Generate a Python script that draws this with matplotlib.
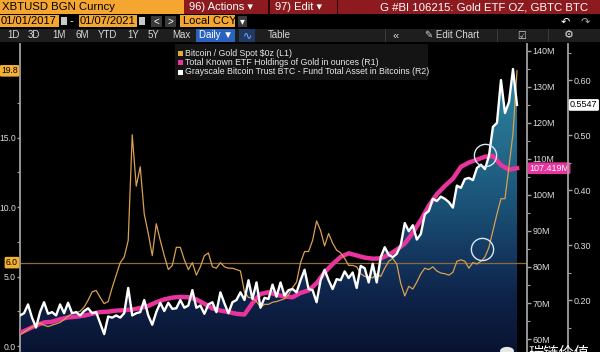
import numpy as np
import pandas as pd
import matplotlib
matplotlib.use('Agg')
import matplotlib.pyplot as plt
import matplotlib.dates as mdates
from matplotlib import font_manager
from matplotlib.colors import LinearSegmentedColormap
from matplotlib.patches import Rectangle, Polygon, Circle

START, END = '2017-01-02', '2021-01-07'

# Bitcoin / Gold spot ratio (L1), about every 12 days
btc_gold = [0.8, 1.0, 1.2, 1.35, 1.5, 1.65, 1.5, 1.4, 1.5, 1.6,
            1.7, 1.9, 2.15, 2.35, 2.4, 2.5, 2.8, 3.3, 3.9, 4.0,
            3.5, 3.05, 3.2, 4.2, 5.1, 6.0, 6.4, 7.6, 15.2, 11.5,
            12.9, 9.5, 8.1, 6.5, 8.8, 7.6, 6.5, 5.5, 5.8, 7.1,
            7.1, 6.2, 5.5, 6.0, 5.1, 5.7, 6.5, 6.7, 5.7, 5.6,
            6.0, 5.7, 5.6, 5.6, 5.5, 5.4, 3.9, 3.5, 3.45, 3.2,
            2.8, 3.0, 3.0, 3.15, 3.2, 3.3, 3.4, 3.7, 4.2, 4.6,
            6.0, 6.8, 6.8, 7.6, 9.0, 8.3, 7.2, 8.1, 7.4, 6.9,
            6.7, 6.3, 5.8, 5.8, 5.7, 5.2, 5.0, 5.0, 4.9, 5.2,
            5.0, 5.6, 6.1, 6.3, 5.9, 4.5, 3.6, 4.3, 4.1, 4.6,
            5.2, 5.6, 5.5, 5.7, 5.4, 5.25, 5.2, 5.1, 5.3, 6.1,
            6.2, 6.1, 5.6, 6.0, 5.9, 6.1, 6.4, 7.1, 8.3, 9.5,
            10.6, 10.6, 12.9, 15.3, 19.8]

# Total known ETF holdings of gold, million oz (R1), about every 24 days
gold_etf = [61.7, 62.7, 63.8, 64.6, 64.8, 65.5, 66.0, 66.2, 66.5, 67.0,
            67.5, 67.6, 67.9, 68.0, 68.2, 68.6, 69.2, 70.2, 71.0, 71.5,
            71.7, 71.6, 71.0, 69.8, 68.5, 67.9, 67.5, 67.0, 66.8, 70.0,
            72.5, 73.0, 72.3, 71.8, 71.6, 72.8, 73.5, 75.5, 78.5, 80.8,
            82.8, 83.8, 83.2, 82.6, 82.3, 82.4, 83.4, 84.8, 86.5, 89.5,
            93.0, 97.0, 100.2, 102.5, 104.5, 107.8, 109.0, 109.8, 110.6, 110.8,
            108.3, 107.0, 107.419]

# Grayscale Bitcoin Trust fund assets, million BTC (R2), about every 12 days
gbtc_btc = [0.172, 0.176, 0.192, 0.168, 0.150, 0.178, 0.196, 0.175, 0.178, 0.172,
            0.192, 0.176, 0.195, 0.176, 0.178, 0.172, 0.180, 0.185, 0.176, 0.178,
            0.158, 0.138, 0.170, 0.168, 0.172, 0.168, 0.176, 0.222, 0.172, 0.176,
            0.178, 0.200, 0.172, 0.155, 0.178, 0.195, 0.180, 0.195, 0.184, 0.185,
            0.200, 0.186, 0.190, 0.218, 0.186, 0.190, 0.175, 0.192, 0.196, 0.178,
            0.214, 0.194, 0.176, 0.196, 0.200, 0.214, 0.200, 0.236, 0.202, 0.232,
            0.186, 0.204, 0.202, 0.228, 0.206, 0.232, 0.208, 0.218, 0.220, 0.214,
            0.236, 0.255, 0.220, 0.218, 0.196, 0.236, 0.255, 0.236, 0.220, 0.238,
            0.236, 0.252, 0.240, 0.250, 0.222, 0.262, 0.258, 0.232, 0.266, 0.232,
            0.278, 0.296, 0.282, 0.278, 0.284, 0.300, 0.340, 0.325, 0.336, 0.310,
            0.320, 0.356, 0.362, 0.384, 0.380, 0.388, 0.384, 0.378, 0.368, 0.408,
            0.404, 0.420, 0.422, 0.418, 0.440, 0.446, 0.438, 0.462, 0.515, 0.522,
            0.600, 0.540, 0.560, 0.620, 0.5547]

ratio_line = 6.0
circle_dates = ['2020-10-04', '2020-09-26']
circle_vals = [111.0, 85.0]   # on the R1 scale

names = {f.name for f in font_manager.fontManager.ttflist}
FONT = 'Liberation Sans Narrow' if 'Liberation Sans Narrow' in names else 'Liberation Sans'
plt.rcParams['font.family'] = [FONT, 'DejaVu Sans']

W, H = 600, 352
fig = plt.figure(figsize=(6, 3.52), dpi=100, facecolor='black')


def box(x, y, w, h, color, z=1):
    fig.patches.append(Rectangle((x / W, 1 - (y + h) / H), w / W, h / H,
                                 transform=fig.transFigure, facecolor=color,
                                 edgecolor='none', zorder=z))


def txt(x, y, s, color='white', size=7, ha='left', **kw):
    fig.text(x / W, 1 - y / H, s, color=color, fontsize=size, ha=ha, va='center', **kw)


# --- bloomberg header ---
box(0, 0, 600, 14, '#8c1a1e')
box(0, 0, 184, 14, '#f4a630')
box(268, 0, 1.5, 14, '#2a0505')
box(337, 0, 1.5, 14, '#2a0505')
txt(2, 7.5, 'XBTUSD BGN Curncy', 'black', 8.2)
txt(189, 7.5, '96) Actions \u25be', 'white', 8)
txt(275, 7.5, '97) Edit \u25be', 'white', 8)
txt(588, 7.5, 'G #BI 106215: Gold ETF OZ, GBTC BTC', 'white', 8.2, ha='right')

box(0, 15, 59, 12, '#f4a630')
txt(1, 21.5, '01/01/2017', 'black', 8)
box(61, 17, 6, 8, '#c8c8c8')
txt(70, 21, '-', 'white', 8)
box(79, 15, 58, 12, '#f4a630')
txt(80, 21.5, '01/07/2021', 'black', 8)
box(139, 17, 6, 8, '#c8c8c8')
box(151, 16, 11, 11, '#3a3a3a')
txt(156.5, 21.5, '<', 'white', 7, ha='center')
box(165, 16, 11, 11, '#3a3a3a')
txt(170.5, 21.5, '>', 'white', 7, ha='center')
box(180, 15, 55, 12, '#f4a630')
txt(183, 21.5, 'Local CCY', 'black', 8)
box(238, 16, 9, 11, '#3a3a3a')
txt(242.5, 21.5, '\u25be', 'white', 7, ha='center')
txt(565, 21.5, '\u21b6', 'white', 8, ha='center')
txt(585, 21.5, '\u21b7', '#aaaaaa', 8, ha='center')

box(0, 29, 600, 13, '#1e1e1e')
for lbl, xx in [('1D', 7), ('3D', 28), ('1M', 52), ('6M', 75), ('YTD', 98),
                ('1Y', 127), ('5Y', 148), ('Max', 172)]:
    txt(xx, 35.5, lbl, '#d8d8d8', 7)
box(196, 29, 39, 13, '#2a62c0')
txt(199, 35.5, 'Daily \u25bc', 'white', 7)
box(239, 29, 16, 13, '#203a66')
txt(247, 35.5, '\u223f', '#8ab4ff', 8, ha='center')
txt(268, 35.5, 'Table', '#d8d8d8', 7)
box(385, 29, 1, 13, '#3a3a3a')
box(497, 29, 1, 13, '#3a3a3a')
box(548, 29, 1, 13, '#3a3a3a')
txt(396, 35.5, '\u00ab', '#d8d8d8', 8, ha='center')
txt(425, 35.5, '\u270e Edit Chart', '#d8d8d8', 7)
txt(522, 35.5, '\u2611', '#d8d8d8', 7, ha='center')
txt(569, 35.5, '\u2699', '#d8d8d8', 8, ha='center')

# --- chart ---
ax = fig.add_axes([20 / W, 0, 507 / W, 308 / H])
ax.set_facecolor('black')
r1 = ax.twinx()
r2 = ax.twinx()
r2.spines['right'].set_position(('axes', 548 / 507))

xa = mdates.date2num(pd.date_range(START, END, periods=len(btc_gold)))
xb = mdates.date2num(pd.date_range(START, END, periods=len(gold_etf)))
xc = mdates.date2num(pd.date_range(START, END, periods=len(gbtc_btc)))
xlim = (xa[0], xa[-1] + (xa[-1] - xa[0]) * 10 / 497)
l1_lim = (-0.43, 21.73)
r1_lim = (56.4, 141.9)
r2_lim = (0.1055, 0.6655)

cmap = LinearSegmentedColormap.from_list(
    'fill', [(0, '#091330'), (0.17, '#0e2248'), (0.33, '#153a62'),
             (0.49, '#1b5478'), (0.65, '#23698a'), (0.82, '#2a7a98'), (1, '#2e84a2')])
im = ax.imshow(np.linspace(0, 1, 256).reshape(-1, 1), extent=(xlim[0], xlim[1], *l1_lim),
               origin='lower', aspect='auto', cmap=cmap, zorder=1)
verts = [(xc[0], 0.0)] + list(zip(xc, gbtc_btc)) + [(xc[-1], 0.0)]
clip = Polygon(verts, closed=True, transform=r2.transData, facecolor='none', edgecolor='none')
ax.add_patch(clip)
im.set_clip_path(clip)

ax.axhline(ratio_line, color='#8c6a3a', lw=0.9, zorder=2)
ax.plot(xb, gold_etf, color='#e8349c', lw=3.2, transform=r1.transData, zorder=3)
ax.plot(xa, btc_gold, color='#d9a04e', lw=0.9, zorder=4)
ax.plot(xc, gbtc_btc, color='white', lw=1.7, transform=r2.transData, zorder=5)
ax.plot(mdates.datestr2num(circle_dates), circle_vals, 'o', ms=16, mfc='none',
        mec='#d6e8f5', mew=1.0, transform=r1.transData, zorder=7)

ax.set_xlim(xlim)
ax.set_ylim(l1_lim)
r1.set_ylim(r1_lim)
r2.set_ylim(r2_lim)

ax.tick_params(axis='x', bottom=False, labelbottom=False)
ax.set_yticks([0, 5, 10, 15])
ax.set_yticklabels(['0.0', '5.0', '10.0', '15.0'])
ax.set_yticks([2.5, 7.5, 12.5, 17.5], minor=True)
r1.set_yticks([60, 70, 80, 90, 100, 110, 120, 130, 140])
r1.set_yticklabels(['60M', '70M', '80M', '90M', '100M', '110M', '120M', '130M', '140M'])
r1.set_yticks([65, 75, 85, 95, 105, 115, 125, 135], minor=True)
r2.set_yticks([0.2, 0.3, 0.4, 0.5, 0.6])
r2.set_yticklabels(['0.20', '0.30', '0.40', '0.50', '0.60'])
r2.set_yticks([0.15, 0.25, 0.35, 0.45, 0.55, 0.65], minor=True)

for a in (ax, r1, r2):
    for s in a.spines.values():
        s.set_visible(False)
    a.tick_params(axis='y', which='major', colors='#a0a0a0', labelcolor='#dcdcdc',
                  labelsize=6.5, length=3, width=1, pad=1)
    a.tick_params(axis='y', which='minor', colors='#a0a0a0', length=2, width=0.8)
ax.tick_params(axis='y', which='major', labelsize=6.2, length=2.5, pad=0.5)
ax.spines['left'].set_visible(True)
r1.spines['right'].set_visible(True)
r2.spines['right'].set_visible(True)
for sp in (ax.spines['left'], r1.spines['right'], r2.spines['right']):
    sp.set_color('#a0a0a0')
    sp.set_linewidth(1.3)

# last value / reference tags
ax.annotate(f'{btc_gold[-1]:.1f}', xy=(0, btc_gold[-1]), xycoords=('axes fraction', 'data'),
            xytext=(-1.5, 0), textcoords='offset points', ha='right', va='center',
            fontsize=6.2, color='black', annotation_clip=False,
            bbox=dict(boxstyle='round,pad=0.15', fc='#f4b030', ec='none'))
ax.annotate(f'{ratio_line:.1f}', xy=(0, ratio_line), xycoords=('axes fraction', 'data'),
            xytext=(-1.5, 0), textcoords='offset points', ha='right', va='center',
            fontsize=6.2, color='black', annotation_clip=False,
            bbox=dict(boxstyle='round,pad=0.15', fc='#f4b030', ec='none'))
r1.annotate(f'{gold_etf[-1]:.3f}M', xy=(1, gold_etf[-1]), xycoords=('axes fraction', 'data'),
            xytext=(1.5, 0), textcoords='offset points', ha='left', va='center',
            fontsize=6.5, color='white', annotation_clip=False,
            bbox=dict(boxstyle='round,pad=0.15', fc='#e8349c', ec='none'))
r2.annotate(f'{gbtc_btc[-1]:.4f}', xy=(548 / 507, gbtc_btc[-1]), xycoords=('axes fraction', 'data'),
            xytext=(1.5, 0), textcoords='offset points', ha='left', va='center',
            fontsize=6.5, color='black', annotation_clip=False,
            bbox=dict(boxstyle='round,pad=0.15', fc='white', ec='none'))

# legend
box(175, 44, 253, 36, '#141414', z=2)
legend_items = [('#e8a838', 'Bitcoin / Gold Spot $0z (L1)'),
                ('#e8349c', 'Total Known ETF Holdings of Gold in ounces (R1)'),
                ('white', 'Grayscale Bitcoin Trust BTC - Fund Total Asset in Bitcoins (R2)')]
for i, (c, s) in enumerate(legend_items):
    yy = 53 + i * 9.5
    box(178, yy - 2.5, 5, 5, c, z=3)
    txt(185, yy, s, '#e6e6e6', 6.3, zorder=4)

# watermark, cut off by the bottom edge
fig.patches.append(Circle((507 / W, 1 - 351 / H), 7 / W, transform=fig.transFigure,
                          facecolor='#e8e8e8', edgecolor='none', zorder=3))
fig.text(528 / W, 1 - 345 / H, '瑞链价值', color='white', fontsize=11, va='top',
         family=['Noto Sans CJK SC'])

fig.savefig('out.png', dpi=100, facecolor='black')
